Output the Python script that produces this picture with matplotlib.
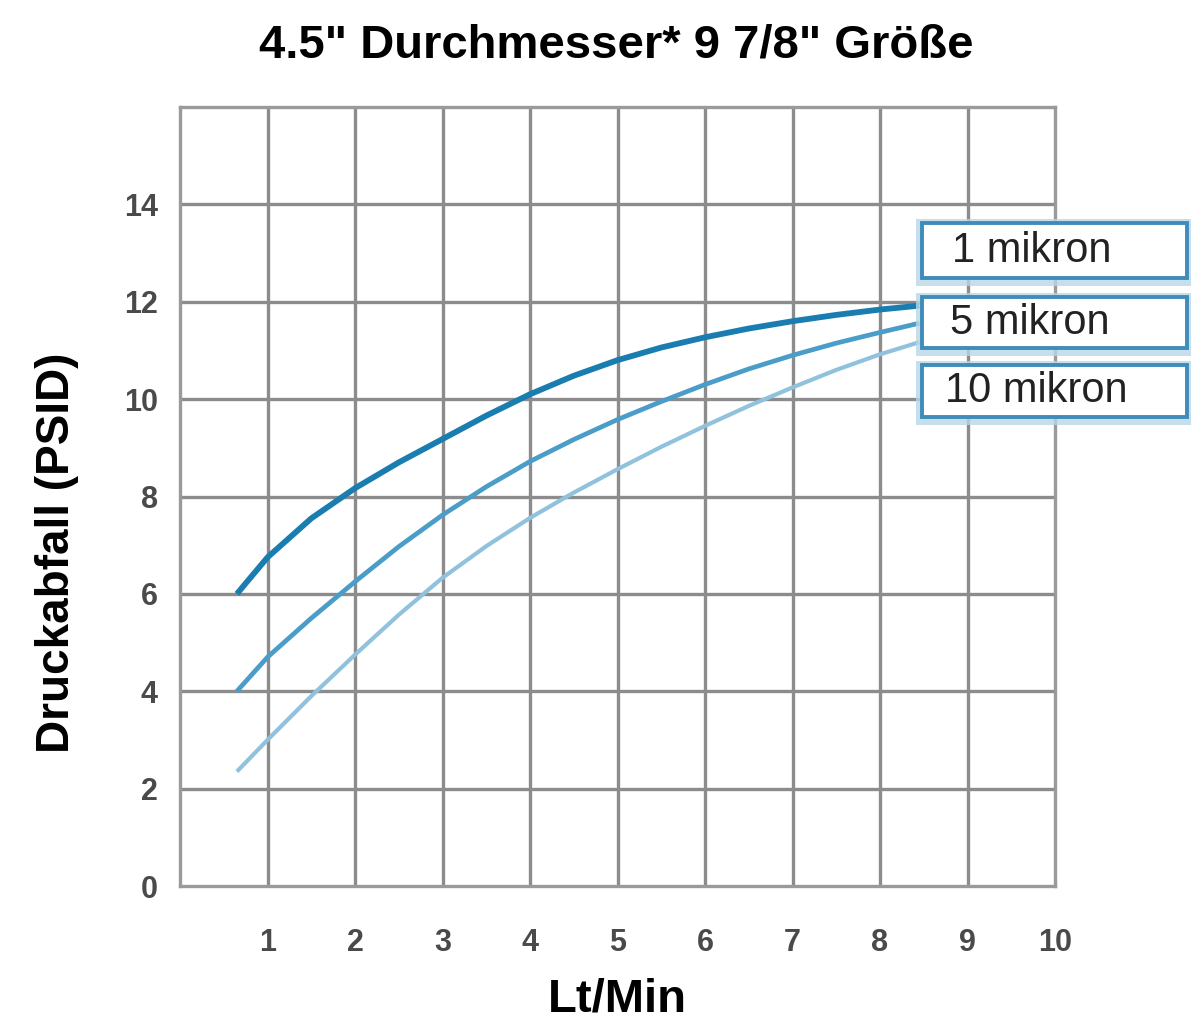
import matplotlib
matplotlib.use("Agg")
import matplotlib.pyplot as plt
from matplotlib.patches import Rectangle

# data
flow = [0.65, 1, 1.5, 2, 2.5, 3, 3.5, 4, 4.5, 5, 5.5, 6, 6.5, 7, 7.5, 8, 8.45]
drop_1 = [6.0, 6.75, 7.55, 8.17, 8.7, 9.18, 9.66, 10.1, 10.48, 10.8, 11.06, 11.27, 11.45, 11.6, 11.73, 11.84, 11.92]
drop_5 = [4.0, 4.7, 5.5, 6.25, 6.97, 7.62, 8.2, 8.72, 9.17, 9.58, 9.95, 10.3, 10.62, 10.9, 11.15, 11.37, 11.56]
drop_10 = [2.35, 3.0, 3.9, 4.75, 5.57, 6.33, 6.98, 7.56, 8.08, 8.56, 9.02, 9.45, 9.86, 10.24, 10.6, 10.92, 11.17]
series_labels = ["1 mikron", "5 mikron", "10 mikron"]
x_ticks = [1, 2, 3, 4, 5, 6, 7, 8, 9, 10]
y_ticks = [0, 2, 4, 6, 8, 10, 12, 14]

colors = ["#1a7db0", "#4b9dc9", "#90c2de"]
widths = [4.2, 3.4, 3.0]
grid_col = "#8c8c8c"
sans = ["Liberation Sans", "DejaVu Sans"]

fig = plt.figure(figsize=(11.92, 10.24), dpi=100)
ax = fig.add_axes([180/1192, 1-886/1024, 875/1192, 779/1024])

ax.set_xlim(0, 10)
ax.set_ylim(0, 16)
for xv in range(1, 10):
    ax.axvline(xv, color=grid_col, lw=2.4, zorder=1)
for yv in range(2, 16, 2):
    ax.axhline(yv, color=grid_col, lw=2.4, zorder=1)
for s in ax.spines.values():
    s.set_color("#9a9a9a")
    s.set_linewidth(2.4)

for ys, c, w in zip([drop_1, drop_5, drop_10], colors, widths):
    ax.plot(flow, ys, color=c, lw=w, solid_capstyle="butt", solid_joinstyle="round", zorder=3)

ax.set_xticks(x_ticks)
ax.set_yticks(y_ticks)
ax.tick_params(length=0, colors="#4a4a4a")
ax.tick_params(axis="x", pad=30)
ax.tick_params(axis="y", pad=16)
for lab in ax.get_xticklabels() + ax.get_yticklabels():
    lab.set_family(sans)
    lab.set_fontsize(22)
    lab.set_fontweight("bold")

fig.text(616/1192, 1-45/1024, "4.5\" Durchmesser* 9 7/8\" Größe", ha="center", va="center",
         fontsize=34, fontweight="bold", family=sans)
fig.text(57/1192, 1-553/1024, "Druckabfall (PSID)", ha="center", va="center", rotation=90,
         fontsize=33, fontweight="bold", family=sans)
fig.text(617/1192, 1-1000/1024, "Lt/Min", ha="center", va="center",
         fontsize=34, fontweight="bold", family=sans)

# label boxes at the curve ends
boxes = [(223, 278, 952), (297, 348, 950), (365, 417, 945)]
W, H = 1192, 1024
for (top, bot, tx), lab in zip(boxes, series_labels):
    x0, x1 = 922, 1187
    shadow = Rectangle(((x0-6)/W, 1-(bot+8)/H), (x1-x0+10)/W, (bot-top+12)/H,
                       transform=fig.transFigure, facecolor="#b9d7e8", edgecolor="none", alpha=0.8, zorder=4)
    fig.add_artist(shadow)
    box = Rectangle((x0/W, 1-bot/H), (x1-x0)/W, (bot-top)/H, transform=fig.transFigure,
                    facecolor="white", edgecolor="#3f8cba", lw=2.8, zorder=5)
    fig.add_artist(box)
    fig.text(tx/W, 1-(top+bot)/2/H, lab, ha="left", va="center", fontsize=30,
             family=sans, color="#222222", zorder=6)

fig.savefig("out.png", dpi=100, facecolor="white")
